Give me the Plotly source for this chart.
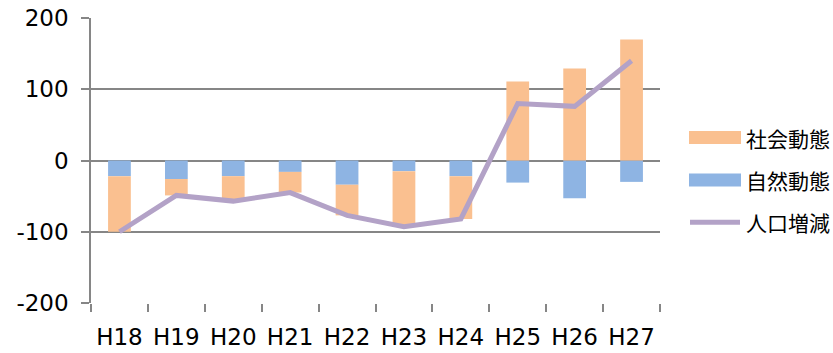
import plotly.graph_objects as go

# Fiscal years (Heisei)
years = ["H18", "H19", "H20", "H21", "H22", "H23", "H24", "H25", "H26", "H27"]
# Natural change (births - deaths)
natural = [-22, -26, -22, -16, -34, -15, -22, -31, -53, -30]
# Social change (in-migration - out-migration)
social = [-78, -23, -35, -29, -43, -78, -60, 111, 129, 170]
# Total population change
total = [-100, -49, -57, -45, -77, -93, -82, 80, 76, 140]

y_ticks = [-200, -100, 0, 100, 200]
y_tick_text = ["-200", "-100", "0", "100", "200"]

ORANGE = "#FAC090"
BLUE = "#8EB4E3"
PURPLE = "#B3A2C7"
GRID = "#868686"

W, H = 833, 353
ML, MR, MT, MB = 91, 173, 18, 50
PW, PH = W - ML - MR, H - MT - MB

fig = go.Figure()
fig.add_trace(go.Bar(x=years, y=natural, name="自然動態", marker=dict(color=BLUE, line=dict(width=0))))
fig.add_trace(go.Bar(x=years, y=social, name="社会動態", marker=dict(color=ORANGE, line=dict(width=0))))
fig.add_trace(go.Scatter(x=years, y=total, name="人口増減", mode="lines",
                         line=dict(color=PURPLE, width=5)))

tick_font = dict(family="DejaVu Sans, Verdana, sans-serif", size=23, color="#000000")

fig.update_layout(
    width=W, height=H,
    margin=dict(l=ML, r=MR, t=MT, b=MB, pad=0, autoexpand=False),
    paper_bgcolor="white", plot_bgcolor="white",
    barmode="relative", bargap=0.6,
    showlegend=False,
    xaxis=dict(
        type="category", tickson="boundaries", ticks="outside", ticklen=8,
        tickcolor=GRID, tickwidth=1.5, showline=False, showgrid=False,
        tickfont=tick_font, ticklabelstandoff=18, fixedrange=True, automargin=False,
    ),
    yaxis=dict(
        range=[-200, 200], tickvals=y_ticks, ticktext=y_tick_text,
        ticks="outside", ticklen=8, tickcolor=GRID, tickwidth=1.5,
        showline=True, linecolor=GRID, linewidth=1.5,
        showgrid=True, gridcolor=GRID, gridwidth=1.5,
        zeroline=True, zerolinecolor=GRID, zerolinewidth=1.5,
        tickfont=tick_font, ticklabelstandoff=8, fixedrange=True, automargin=False,
    ),
)


def px_x(px):
    return (px - ML) / PW


def px_y(py):
    return 1 - (py - MT) / PH


# Legend drawn as shapes and labels on the right side
legend_font = dict(family="Noto Sans CJK JP", size=21, color="#000000")
items = [("社会動態", ORANGE, "bar", 137.5), ("自然動態", BLUE, "bar", 180.0), ("人口増減", PURPLE, "line", 222.3)]
for label, color, kind, cy in items:
    if kind == "bar":
        fig.add_shape(type="rect", xref="paper", yref="paper",
                      x0=px_x(689), x1=px_x(741), y0=px_y(cy - 6.5), y1=px_y(cy + 6.5),
                      fillcolor=color, line=dict(width=0))
    else:
        fig.add_shape(type="line", xref="paper", yref="paper",
                      x0=px_x(690), x1=px_x(740), y0=px_y(cy), y1=px_y(cy),
                      line=dict(color=color, width=5))
    fig.add_annotation(text=label, xref="paper", yref="paper", x=px_x(744), y=px_y(cy),
                       xanchor="left", yanchor="middle", showarrow=False, font=legend_font)

fig.write_html("out.html")
